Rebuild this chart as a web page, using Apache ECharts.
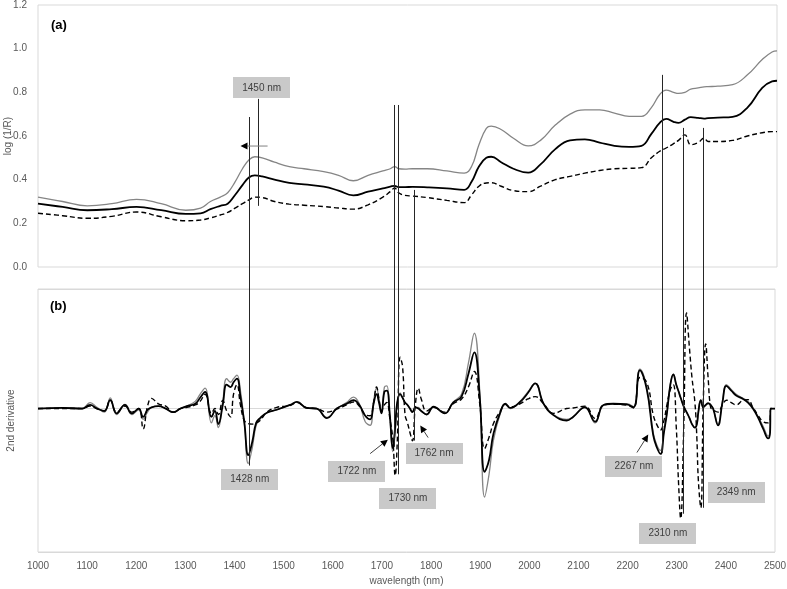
<!DOCTYPE html>
<html>
<head>
<meta charset="utf-8">
<script src="https://cdn.jsdelivr.net/npm/echarts@6/dist/echarts.min.js"></script>
<style>
html, body { margin: 0; background: #fff; }
#main { width: 787px; height: 589px; }
</style>
</head>
<body>
<div id="main"></div>
<script>
// (a) log(1/R) spectra
var wlA = [1000, 1050, 1100, 1150, 1200, 1250, 1300, 1330, 1350, 1370,
    1385, 1400, 1415, 1428, 1440, 1455, 1480, 1510, 1540, 1580,
    1610, 1640, 1670, 1700, 1715, 1724, 1732, 1745, 1760, 1790,
    1830, 1865, 1880, 1895, 1910, 1920, 1940, 1965, 1995, 2020,
    2050, 2080, 2110, 2140, 2170, 2200, 2225, 2245, 2262, 2275,
    2290, 2300, 2313, 2325, 2340, 2352, 2360, 2380, 2410, 2440,
    2470, 2490, 2500];
var grayA = [.32, .30, .28, .29, .31, .29, .26, .27, .30, .32,
    .34, .39, .45, .49, .505, .50, .48, .46, .45, .437,
    .42, .395, .42, .44, .45, .46, .45, .448, .45, .45,
    .44, .43, .46, .56, .635, .645, .63, .59, .555, .58,
    .65, .70, .72, .72, .705, .69, .69, .73, .79, .81,
    .80, .795, .80, .815, .82, .825, .826, .828, .835, .88,
    .95, .985, .99];
var blackA = [.29, .275, .26, .265, .275, .26, .243, .246, .265, .28,
    .29, .33, .375, .41, .42, .415, .40, .385, .378, .368,
    .35, .328, .345, .36, .368, .372, .366, .366, .367, .365,
    .36, .353, .39, .46, .50, .505, .48, .45, .432, .47,
    .54, .58, .585, .57, .555, .55, .555, .61, .66, .678,
    .665, .66, .675, .686, .683, .68, .682, .684, .688, .73,
    .82, .85, .853];
var dashA = [.246, .235, .223, .232, .252, .23, .212, .215, .225, .238,
    .25, .27, .29, .307, .32, .318, .30, .288, .283, .277,
    .27, .265, .285, .32, .345, .362, .34, .328, .325, .318,
    .305, .295, .33, .37, .385, .386, .37, .35, .345, .37,
    .40, .415, .43, .442, .45, .452, .455, .50, .53, .545,
    .565, .58, .605, .56, .57, .59, .575, .575, .58, .60,
    .615, .62, .62];

// (b) 2nd derivative
var wlB = [1000, 1050, 1090, 1106, 1120, 1135, 1147, 1160, 1177, 1191,
    1205, 1214, 1223, 1231, 1245, 1260, 1275, 1290, 1303, 1320,
    1330, 1340, 1353, 1360, 1367, 1376, 1384, 1392, 1398, 1405,
    1412, 1420, 1428, 1436, 1444, 1452, 1466, 1486, 1513, 1527,
    1547, 1567, 1588, 1608, 1628, 1642, 1654, 1666, 1676, 1683,
    1689, 1694, 1699, 1705, 1710, 1716, 1722, 1727, 1731, 1737,
    1742, 1747, 1752, 1757, 1762, 1768, 1774, 1780, 1791, 1805,
    1828, 1845, 1862, 1876, 1888, 1899, 1909, 1918, 1927, 1941,
    1951, 1961, 1981, 1997, 2012, 2029, 2049, 2076, 2089, 2113,
    2134, 2151, 2171, 2198, 2212, 2225, 2239, 2252, 2259, 2267,
    2274, 2280, 2287, 2293, 2299, 2304, 2308, 2314, 2320, 2326,
    2331, 2337, 2341, 2344, 2349, 2354, 2359, 2364, 2369, 2374,
    2384, 2393, 2401, 2411, 2421, 2435, 2445, 2455, 2466, 2476,
    2486, 2490, 2491, 2500];
var blackB = [0, 0.05, 0, 0.3, 0, -0.2, 0.7, -0.4, 0.3, -0.4,
    0, -0.7, -0.1, 0.1, 0.2, 0, -0.3, 0, 0.2, 0.4,
    0.9, 1.4, -0.7, -0.2, -1.3, 0.3, 2.0, 1.8, 2.2, 2.5,
    1.0, -1.2, -3.9, -2.8, -1.2, -0.8, -0.35, -0.1, 0.3, 0.55,
    0.05, 0, -0.8, 0, 0.4, 0.7, 0.3, -0.6, -0.9, 0.4,
    1.2, 0.5, -0.4, 1.4, 1.5, -0.5, -3.3, -1.5, 0.5, 1.2,
    0.9, 0.5, 0.3, 0, -0.3, 0.1, 0, -0.2, -0.5, 0.15,
    -0.4, 0.5, 1.0, 2.9, 4.7, 1.0, -5.3, -4.3, -2.1, -0.3,
    0.4, 0.05, 0.55, 1.3, 2.1, 0.4, -0.55, -1.0, -0.7, 0.1,
    -1.1, 0.3, 0.4, 0.35, 0.1, 3.2, 1.6, -2.2, -3.2, -3.8,
    -2.0, -0.4, 2.0, 2.85, 2.0, 1.4, 0.9, 0.2, -0.3, -0.8,
    -1.3, -1.6, -1.3, -0.3, 0.7, 0.1, 0.3, 0.45, 0.3, 0,
    -1.4, 0.5, 1.9, 1.5, 1.1, 0.8, 0.5, 0, -0.8, -1.7,
    -2.5, -2.0, 0, 0];
var grayB = [0, 0.05, 0, 0.5, 0.1, -0.3, 0.9, -0.5, 0.35, -0.5,
    -0.1, -0.9, -0.3, 0.1, 0.2, 0, -0.3, 0, 0.2, 0.6,
    1.2, 1.7, -1.2, -0.6, -1.6, 0.6, 2.5, 2.2, 2.5, 2.8,
    1.5, -1.2, -4.6, -3.3, -1.4, -0.9, -0.35, -0.1, 0.3, 0.55,
    0.05, 0, -0.75, 0, 0.5, 0.95, 0.4, -1.1, -1.4, 0.6,
    1.7, 0.8, -0.4, 1.8, 1.9, -0.6, -3.6, -2.0, 0.4, 1.3,
    0.9, 0.5, 0.3, 0, -0.3, 0.1, 0.1, -0.2, -0.5, 0.15,
    -0.4, 0.55, 1.2, 3.8, 6.3, 1.5, -7.4, -5.5, -2.65, -0.4,
    0.35, 0, 0.6, 1.4, 2.1, 0.4, -0.5, -0.9, -0.7, 0.15,
    -1.2, 0.3, 0.4, 0.4, 0.15, 3.3, 1.8, -2.0, -3.0, -3.5,
    -1.8, -0.4, 2.0, 2.85, 2.0, 1.4, 0.9, 0.2, -0.3, -0.8,
    -1.3, -1.6, -1.3, -0.3, 0.7, 0.1, 0.3, 0.4, 0.3, 0,
    -1.3, 0.6, 2.0, 1.6, 1.2, 0.85, 0.6, 0.1, -0.7, -1.5,
    -2.3, -1.8, 0, 0];
var dashB = [0, 0, 0, 0.2, 0, -0.2, 0.7, -0.3, 0.2, -0.3,
    0, -1.7, 0.2, 0.85, 0.4, 0.2, -0.3, 0, 0.1, 0.3,
    0.6, 1.2, -0.4, 0, -0.5, 0.67, -0.2, -0.7, 1.2, 2.0,
    0.3, -1.0, -1.25, -1.3, -1.2, -1.0, -0.3, 0.1, 0.25, 0.5,
    0.05, 0, -0.3, -0.05, 0.3, 0.55, 0.2, -0.5, -0.6, 0.5,
    1.8, 0.8, -0.2, 0.3, 0.5, -0.8, -2.5, -5.6, -3.0, 4.3,
    3.5, -0.5, -1.2, -2.0, -2.7, 0.3, 1.7, 0.8, -0.2, 0.1,
    -0.3, 0.4, 0.8, 1.8, 3.1, 0.4, -3.35, -2.4, -1.25, -0.2,
    0.35, 0.14, 0.4, 0.8, 1.0, 0.4, -0.4, 0, 0.05, 0.2,
    -0.84, 0.3, 0.35, 0.3, 0.05, 2.6, 2.2, -0.5, -1.3, -1.8,
    -1.0, 0.3, 1.6, 2.0, -1.5, -6.5, -9.2, -2.0, 8.0, 5.0,
    2.6, 0.5, -2.5, -6.0, -8.3, 0.5, 5.4, 2.5, 0.1, -0.1,
    -0.3, 0.3, 0.7, 0.5, 0.3, 0.7, 0.75, 0.1, -0.6, -1.1,
    -1.2, -1.0, 0, 0];

// annotated bands (nm)
var bandLabels = ['1450 nm', '1428 nm', '1722 nm', '1730 nm', '1762 nm', '2267 nm', '2310 nm', '2349 nm'];

var chart = echarts.init(document.getElementById('main'));
var font = 'Liberation Sans';
var axisText = '#595959';

function pairs(xs, ys) {
    return xs.map(function (x, i) { return [x, ys[i]]; });
}
function lineSeries(xi, data, color, width, type, z) {
    return {
        type: 'line', xAxisIndex: xi, yAxisIndex: xi, data: data,
        showSymbol: false, smooth: 0.45, z: z,
        lineStyle: { color: color, width: width, type: type }
    };
}

var option = {
    animation: false,
    grid: [
        { left: 38, right: 10, top: 5, height: 262, show: true, borderColor: '#d9d9d9', borderWidth: 1, outerBoundsMode: 'none', containLabel: false },
        { left: 38, right: 12, top: 289, height: 263, show: true, borderColor: '#d9d9d9', borderWidth: 1, outerBoundsMode: 'none', containLabel: false }
    ],
    xAxis: [
        {
            gridIndex: 0, type: 'value', min: 1000, max: 2500, interval: 100,
            axisLabel: { show: false }, axisLine: { show: false }, axisTick: { show: false }, splitLine: { show: false }
        },
        {
            gridIndex: 1, type: 'value', min: 1000, max: 2500, interval: 100,
            name: 'wavelength (nm)', nameLocation: 'middle', nameGap: 24, nameMoveOverlap: false,
            nameTextStyle: { color: axisText, fontSize: 10, fontFamily: font },
            axisLabel: {
                color: axisText, fontSize: 10, fontFamily: font, margin: 9,
                formatter: function (v) { return String(v); }
            },
            axisLine: { show: false }, axisTick: { show: false }, splitLine: { show: false }
        }
    ],
    yAxis: [
        {
            gridIndex: 0, type: 'value', min: 0, max: 1.2, interval: 0.2,
            name: 'log (1/R)', nameLocation: 'middle', nameGap: 25, nameMoveOverlap: false,
            nameTextStyle: { color: axisText, fontSize: 10, fontFamily: font },
            axisLabel: {
                color: axisText, fontSize: 10, fontFamily: font, margin: 11,
                formatter: function (v) { return v.toFixed(1); }
            },
            axisLine: { show: false }, axisTick: { show: false }, splitLine: { show: false }
        },
        {
            gridIndex: 1, type: 'value', min: -12, max: 10, interval: 12,
            name: '2nd derivative', nameLocation: 'middle', nameGap: 22, nameMoveOverlap: false,
            nameTextStyle: { color: axisText, fontSize: 10, fontFamily: font },
            axisLabel: { show: false }, axisLine: { show: false }, axisTick: { show: false },
            splitLine: { show: true, lineStyle: { color: '#d9d9d9', width: 1 } }
        }
    ],
    series: [
        lineSeries(0, pairs(wlA, grayA), '#858585', 1.3, 'solid', 2),
        lineSeries(0, pairs(wlA, dashA), '#000', 1.4, [5, 3], 3),
        lineSeries(0, pairs(wlA, blackA), '#000', 1.8, 'solid', 4),
        lineSeries(1, pairs(wlB, grayB), '#858585', 1.3, 'solid', 2),
        lineSeries(1, pairs(wlB, dashB), '#000', 1.4, [5, 3], 3),
        lineSeries(1, pairs(wlB, blackB), '#000', 1.8, 'solid', 4)
    ]
};
chart.setOption(option);

// annotations, anchored in data coordinates of either panel
function px(g, x, y) {
    return chart.convertToPixel({ gridIndex: g }, [x, y]);
}
var guideLines = [
    { nm: 1428, from: [0, 0.687], to: [1, -4.77] },
    { nm: 1446, from: [0, 0.77], to: [0, 0.28] },
    { nm: 1723, from: [0, 0.742], to: [1, -3.2] },
    { nm: 1730, from: [0, 0.742], to: [1, -5.5] },
    { nm: 1763, from: [0, 0.353], to: [1, -2.68] },
    { nm: 2267, from: [0, 0.88], to: [1, -3.7] },
    { nm: 2310, from: [0, 0.637], to: [1, -8.8] },
    { nm: 2349, from: [0, 0.637], to: [1, -8.3] }
];
var boxes = [
    { grid: 0, at: [1454, 0.82] },
    { grid: 1, at: [1431, -5.94] },
    { grid: 1, at: [1649, -5.27] },
    { grid: 1, at: [1753, -7.53] },
    { grid: 1, at: [1806, -3.77] },
    { grid: 1, at: [2213, -4.85] },
    { grid: 1, at: [2282, -10.46] },
    { grid: 1, at: [2421, -7.03] }
];
var arrows = [
    { grid: 0, from: [1466, 0.554], to: [1411, 0.554], color: '#808080' },
    { grid: 1, from: [1676, -3.77], to: [1712, -2.6], color: '#404040' },
    { grid: 1, from: [1794, -2.43], to: [1778, -1.42], color: '#404040' },
    { grid: 1, from: [2219, -3.68], to: [2242, -2.18], color: '#404040' }
];

var graphics = [];
guideLines.forEach(function (a) {
    var p1 = px(a.from[0], a.nm, a.from[1]);
    var p2 = px(a.to[0], a.nm, a.to[1]);
    var x = Math.round(p1[0]) + 0.5;
    graphics.push({
        type: 'line', z: 10,
        shape: { x1: x, y1: p1[1], x2: x, y2: p2[1] },
        style: { stroke: '#262626', lineWidth: 1 }
    });
});
boxes.forEach(function (b, i) {
    var p = px(b.grid, b.at[0], b.at[1]);
    graphics.push({
        type: 'rect', z: 11,
        shape: { x: Math.round(p[0] - 28.5), y: Math.round(p[1] - 10.5), width: 57, height: 21 },
        style: { fill: '#c9c9c9' }
    });
    graphics.push({
        type: 'text', z: 12, x: p[0], y: p[1],
        style: {
            text: bandLabels[i], fill: '#404040', font: '10px ' + font,
            textAlign: 'center', textVerticalAlign: 'middle', align: 'center', verticalAlign: 'middle'
        }
    });
});
arrows.forEach(function (a) {
    var p1 = px(a.grid, a.from[0], a.from[1]);
    var p2 = px(a.grid, a.to[0], a.to[1]);
    var dx = p2[0] - p1[0], dy = p2[1] - p1[1];
    var len = Math.sqrt(dx * dx + dy * dy);
    var ux = dx / len, uy = dy / len;
    var hl = 7, hw = 3.5;
    var bx = p2[0] - ux * hl, by = p2[1] - uy * hl;
    graphics.push({
        type: 'line', z: 10,
        shape: { x1: p1[0], y1: p1[1], x2: bx, y2: by },
        style: { stroke: a.color, lineWidth: 1 }
    });
    graphics.push({
        type: 'polygon', z: 10,
        shape: { points: [[p2[0], p2[1]], [bx - uy * hw, by + ux * hw], [bx + uy * hw, by - ux * hw]] },
        style: { fill: '#000' }
    });
});
// panel letters
graphics.push({
    type: 'text', z: 12, left: 51, top: 19,
    style: { text: '(a)', fill: '#000', font: 'bold 13px ' + font }
});
graphics.push({
    type: 'text', z: 12, left: 50, top: 300,
    style: { text: '(b)', fill: '#000', font: 'bold 13px ' + font }
});

chart.setOption({ graphic: graphics });
</script>
</body>
</html>
